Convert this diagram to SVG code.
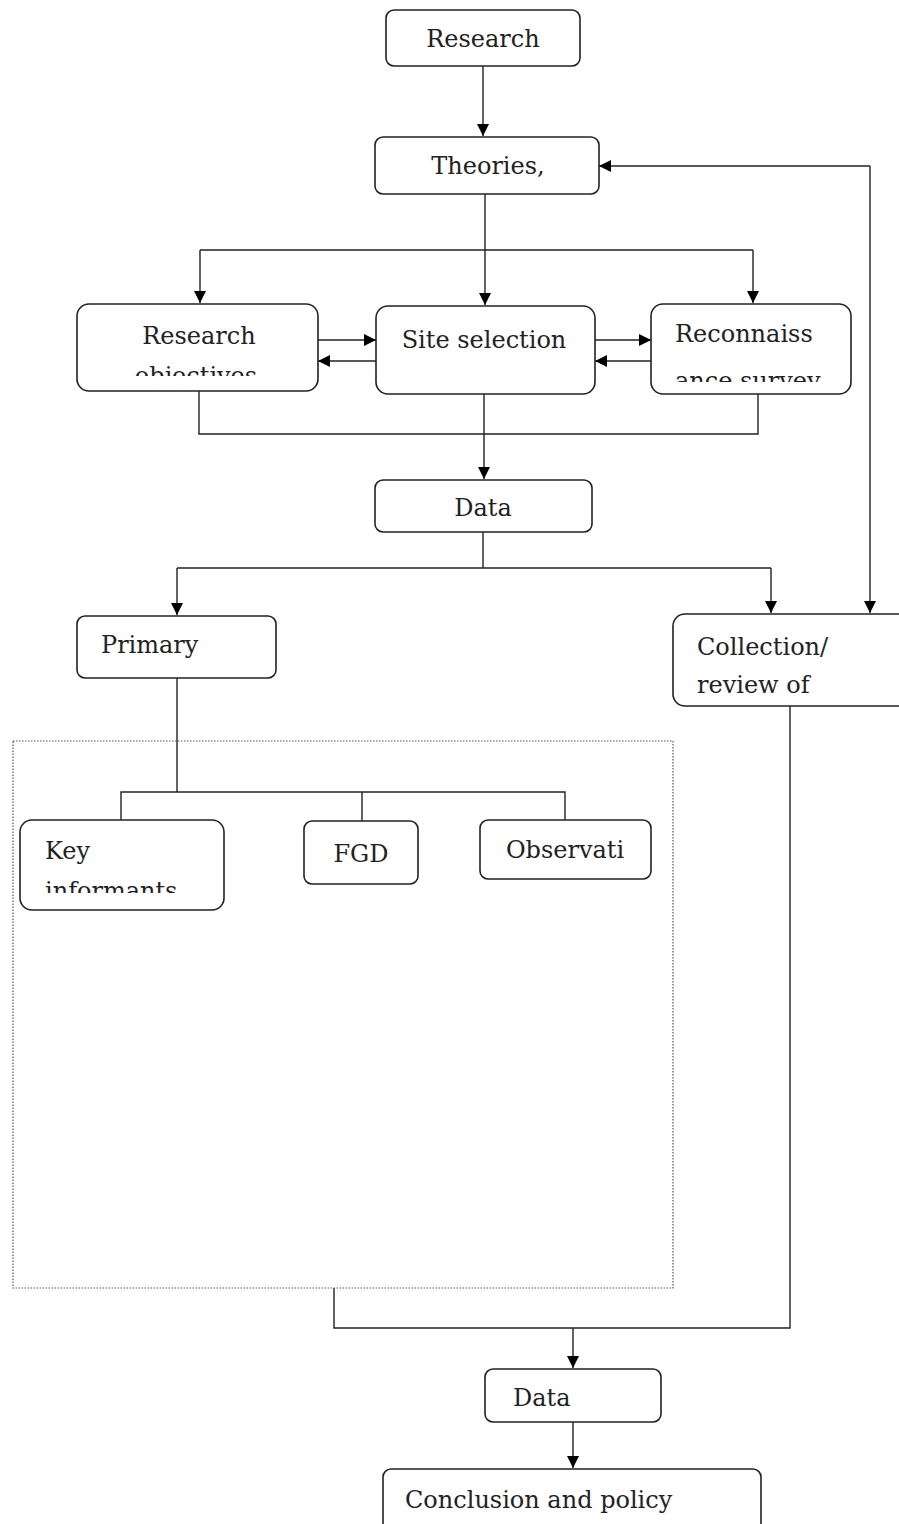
<svg xmlns="http://www.w3.org/2000/svg" width="899" height="1524" viewBox="0 0 899 1524">
<style>
.box{fill:#fff;stroke:#222;stroke-width:1.6}
.t{font-family:"DejaVu Serif","Liberation Serif",serif;font-size:24px;fill:#222}
.c{stroke:#222;stroke-width:1.4;fill:none}
.dot{fill:none;stroke:#555;stroke-width:1.2;stroke-dasharray:1.5 1.5}
</style>
<defs>
<marker id="ah" markerUnits="userSpaceOnUse" markerWidth="14" markerHeight="14" refX="12" refY="6" orient="auto">
<path d="M0,0 L12,6 L0,12 Z" fill="#000"/>
</marker>
<clipPath id="c1"><rect x="77" y="304" width="241" height="72"/></clipPath>
<clipPath id="c2"><rect x="651" y="304" width="200" height="78"/></clipPath>
<clipPath id="c3"><rect x="20" y="820" width="204" height="73"/></clipPath>
</defs>
<rect width="899" height="1524" fill="#fff"/>
<g id="connectors">
<line class="c" x1="483" y1="66" x2="483" y2="136" marker-end="url(#ah)"/>
<line class="c" x1="485" y1="194" x2="485" y2="305" marker-end="url(#ah)"/>
<polyline class="c" points="200,250 753,250"/>
<line class="c" x1="200" y1="250" x2="200" y2="303" marker-end="url(#ah)"/>
<line class="c" x1="753" y1="250" x2="753" y2="303" marker-end="url(#ah)"/>
<line class="c" x1="318" y1="340" x2="376" y2="340" marker-end="url(#ah)"/>
<line class="c" x1="376" y1="361" x2="318" y2="361" marker-end="url(#ah)"/>
<line class="c" x1="595" y1="340" x2="651" y2="340" marker-end="url(#ah)"/>
<line class="c" x1="651" y1="361" x2="595" y2="361" marker-end="url(#ah)"/>
<polyline class="c" points="199,391 199,434 758,434 758,394"/>
<line class="c" x1="484" y1="394" x2="484" y2="479" marker-end="url(#ah)"/>
<line class="c" x1="483" y1="532" x2="483" y2="568"/>
<polyline class="c" points="177,568 771,568"/>
<line class="c" x1="177" y1="568" x2="177" y2="615" marker-end="url(#ah)"/>
<line class="c" x1="771" y1="568" x2="771" y2="613" marker-end="url(#ah)"/>
<polyline class="c" points="870,166 870,613" marker-end="url(#ah)"/>
<line class="c" x1="870" y1="166" x2="599" y2="166" marker-end="url(#ah)"/>
<line class="c" x1="177" y1="678" x2="177" y2="792"/>
<polyline class="c" points="121,821 121,792 565,792 565,821"/>
<line class="c" x1="362" y1="792" x2="362" y2="821"/>
<polyline class="c" points="334,1288 334,1328 790,1328 790,706"/>
<line class="c" x1="573" y1="1328" x2="573" y2="1368" marker-end="url(#ah)"/>
<line class="c" x1="573" y1="1422" x2="573" y2="1468" marker-end="url(#ah)"/>
</g>
<g id="primary-group"><rect class="dot" x="13" y="741" width="660" height="547"/></g>
<g id="research"><rect class="box" x="386" y="10" width="194" height="56" rx="8"/><text class="t" x="483" y="47" text-anchor="middle">Research</text></g>
<g id="theories"><rect class="box" x="375" y="137" width="224" height="57" rx="8"/><text class="t" x="488" y="174" text-anchor="middle">Theories,</text></g>
<g id="research-objectives"><rect class="box" x="77" y="304" width="241" height="87" rx="12"/><g clip-path="url(#c1)"><text class="t" x="199" y="344" text-anchor="middle">Research</text><text class="t" x="196" y="384" text-anchor="middle">objectives</text></g></g>
<g id="site-selection"><rect class="box" x="376" y="306" width="219" height="88" rx="12"/><text class="t" x="484" y="348" text-anchor="middle">Site selection</text></g>
<g id="reconnaissance"><rect class="box" x="651" y="304" width="200" height="90" rx="12"/><g clip-path="url(#c2)"><text class="t" x="675" y="342">Reconnaiss</text><text class="t" x="675" y="389">ance survey</text></g></g>
<g id="data1"><rect class="box" x="375" y="480" width="217" height="52" rx="8"/><text class="t" x="483" y="516" text-anchor="middle">Data</text></g>
<g id="primary"><rect class="box" x="77" y="616" width="199" height="62" rx="8"/><text class="t" x="101" y="653">Primary</text></g>
<g id="collection"><rect class="box" x="673" y="614" width="240" height="92" rx="12"/><text class="t" x="697" y="655">Collection/</text><text class="t" x="697" y="693">review of</text></g>
<g id="key-informants"><rect class="box" x="20" y="820" width="204" height="90" rx="12"/><g clip-path="url(#c3)"><text class="t" x="45" y="859">Key</text><text class="t" x="45" y="899">informants</text></g></g>
<g id="fgd"><rect class="box" x="304" y="821" width="114" height="63" rx="8"/><text class="t" x="361" y="862" text-anchor="middle">FGD</text></g>
<g id="observation"><rect class="box" x="480" y="820" width="171" height="59" rx="8"/><text class="t" x="565" y="858" text-anchor="middle">Observati</text></g>
<g id="data2"><rect class="box" x="485" y="1369" width="176" height="53" rx="8"/><text class="t" x="513" y="1406">Data</text></g>
<g id="conclusion"><rect class="box" x="383" y="1469" width="378" height="70" rx="8"/><text class="t" x="405" y="1508">Conclusion and policy</text></g>
</svg>
